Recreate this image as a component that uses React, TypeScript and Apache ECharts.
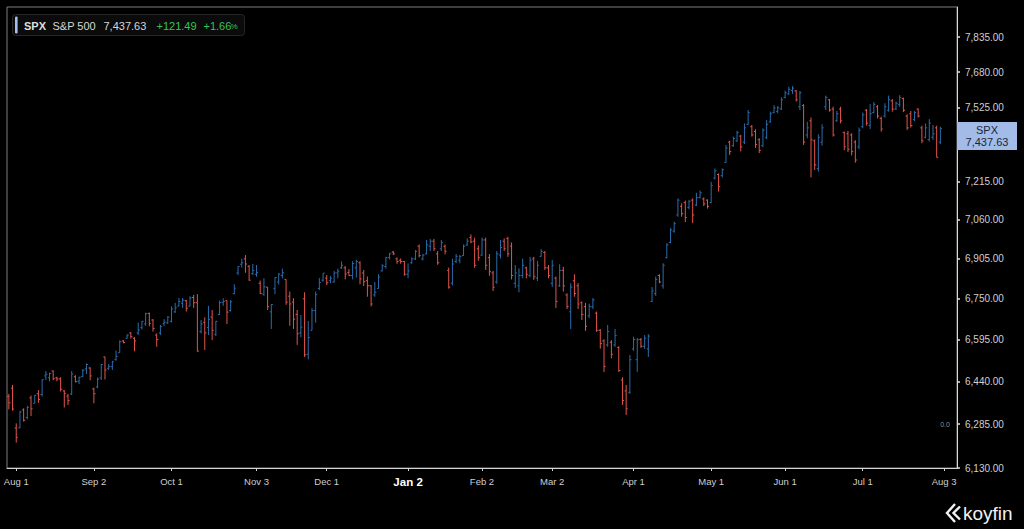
import React, { useEffect, useRef } from 'react';
import * as echarts from 'echarts';

const FONT = '"Liberation Sans", Arial, Helvetica, sans-serif';

// ---- trading calendar (category axis) ----
const FIRST_SESSION = '2025-07-30';
const AXIS_SLOTS = 257;
const MARKET_HOLIDAYS = [
  '2025-09-01', '2025-11-27', '2025-12-25', '2026-01-01', '2026-01-19',
  '2026-02-16', '2026-04-03', '2026-05-25', '2026-06-19', '2026-07-03',
];
const MONTHS = ['Jan', 'Feb', 'Mar', 'Apr', 'May', 'Jun', 'Jul', 'Aug', 'Sep', 'Oct', 'Nov', 'Dec'];

// ---- OHLC values ----
const OPEN = [
  6385, 6415, 6271, 6272, 6336, 6309, 6380, 6360, 6395, 6392,
  6460, 6453, 6478, 6453, 6449, 6405, 6386, 6394, 6457, 6441,
  6458, 6486, 6489, 6412, 6420, 6453, 6530, 6488, 6494, 6520,
  6546, 6590, 6600, 6620, 6600, 6620, 6640, 6654, 6694, 6669,
  6612, 6620, 6655, 6658, 6664, 6700, 6722, 6733, 6743, 6722,
  6755, 6735, 6625, 6660, 6640, 6680, 6615, 6690, 6736, 6743,
  6705, 6770, 6850, 6884, 6905, 6876, 6848, 6845, 6810, 6768,
  6795, 6700, 6790, 6815, 6840, 6825, 6760, 6737, 6690, 6620,
  6750, 6540, 6630, 6705, 6790, 6822, 6830, 6820, 6815, 6850,
  6870, 6870, 6852, 6840, 6870, 6890, 6850, 6820, 6800, 6765,
  6790, 6858, 6875, 6910, 6932, 6905, 6900, 6895, 6845, 6890,
  6905, 6955, 6905, 6925, 6955, 6975, 6925, 6945, 6955, 6860,
  6810, 6895, 6900, 6918, 6960, 6990, 6975, 6945, 6920, 6980,
  6910, 6850, 6815, 6920, 6975, 6985, 6955, 6810, 6800, 6840,
  6870, 6840, 6905, 6830, 6915, 6930, 6870, 6810, 6830, 6800,
  6860, 6765, 6700, 6820, 6800, 6735, 6720, 6685, 6720, 6695,
  6630, 6590, 6575, 6585, 6575, 6565, 6445, 6405, 6400, 6560,
  6520, 6595, 6570, 6560, 6740, 6770, 6840, 6800, 6910, 6970,
  7015, 7080, 7115, 7130, 7110, 7140, 7120, 7150, 7145, 7140,
  7130, 7230, 7245, 7240, 7295, 7380, 7365, 7385, 7405, 7380,
  7455, 7445, 7425, 7390, 7365, 7400, 7465, 7505, 7510, 7520,
  7570, 7585, 7600, 7598, 7530, 7535, 7410, 7470, 7385, 7270,
  7380, 7530, 7560, 7520, 7470, 7520, 7420, 7415, 7410, 7380,
  7360, 7445, 7515, 7450, 7505, 7530, 7480, 7490, 7515, 7555,
  7520, 7540, 7565, 7490, 7500, 7475, 7520, 7440, 7400, 7390,
  7400, 7440, 7380,
];
const HIGH = [
  6394, 6427, 6288, 6333, 6342, 6351, 6388, 6390, 6408, 6447,
  6478, 6472, 6480, 6457, 6455, 6408, 6394, 6478, 6463, 6457,
  6485, 6506, 6492, 6417, 6454, 6504, 6531, 6504, 6516, 6554,
  6592, 6593, 6615, 6623, 6605, 6659, 6665, 6697, 6697, 6672,
  6618, 6650, 6672, 6684, 6721, 6734, 6753, 6753, 6745, 6760,
  6765, 6768, 6669, 6679, 6723, 6707, 6665, 6743, 6752, 6743,
  6745, 6806, 6876, 6906, 6920, 6881, 6885, 6881, 6820, 6830,
  6795, 6730, 6833, 6849, 6867, 6825, 6778, 6752, 6707, 6688,
  6775, 6665, 6714, 6778, 6830, 6849, 6842, 6838, 6858, 6867,
  6895, 6877, 6865, 6896, 6902, 6896, 6862, 6836, 6803, 6815,
  6845, 6884, 6913, 6929, 6936, 6911, 6907, 6897, 6887, 6911,
  6940, 6962, 6924, 6980, 6984, 6984, 6936, 6980, 6962, 6871,
  6906, 6924, 6920, 6962, 6986, 7002, 6989, 6958, 6989, 6989,
  6924, 6858, 6936, 6980, 6986, 6993, 6970, 6881, 6868, 6906,
  6874, 6913, 6913, 6897, 6943, 6936, 6881, 6901, 6836, 6884,
  6874, 6771, 6810, 6845, 6810, 6740, 6734, 6731, 6753, 6701,
  6635, 6596, 6650, 6593, 6635, 6570, 6455, 6427, 6537, 6606,
  6601, 6601, 6612, 6615, 6795, 6836, 6845, 6888, 6967, 7027,
  7053, 7147, 7127, 7138, 7141, 7147, 7170, 7179, 7151, 7143,
  7215, 7270, 7249, 7270, 7368, 7386, 7403, 7428, 7410, 7459,
  7516, 7452, 7434, 7396, 7438, 7473, 7509, 7537, 7533, 7570,
  7599, 7616, 7619, 7602, 7598, 7541, 7466, 7484, 7391, 7413,
  7455, 7578, 7563, 7530, 7512, 7530, 7424, 7427, 7417, 7388,
  7441, 7505, 7520, 7541, 7550, 7537, 7488, 7545, 7578, 7563,
  7552, 7580, 7569, 7498, 7512, 7512, 7523, 7449, 7459, 7477,
  7452, 7449, 7445,
];
const LOW = [
  6338, 6333, 6219, 6270, 6294, 6302, 6314, 6360, 6362, 6385,
  6445, 6440, 6444, 6440, 6403, 6345, 6354, 6390, 6436, 6430,
  6455, 6467, 6444, 6360, 6415, 6445, 6447, 6482, 6482, 6516,
  6546, 6581, 6599, 6599, 6551, 6612, 6633, 6647, 6645, 6625,
  6568, 6612, 6647, 6654, 6660, 6696, 6721, 6715, 6701, 6721,
  6715, 6550, 6618, 6556, 6612, 6593, 6608, 6688, 6723, 6654,
  6701, 6768, 6842, 6871, 6851, 6820, 6842, 6835, 6768, 6761,
  6707, 6635, 6768, 6805, 6829, 6727, 6647, 6635, 6575, 6604,
  6530, 6521, 6630, 6659, 6784, 6816, 6803, 6810, 6812, 6829,
  6866, 6825, 6839, 6825, 6832, 6806, 6799, 6758, 6721, 6758,
  6789, 6856, 6867, 6903, 6920, 6886, 6886, 6839, 6829, 6886,
  6901, 6911, 6899, 6923, 6936, 6936, 6882, 6936, 6923, 6789,
  6802, 6888, 6888, 6917, 6957, 6967, 6870, 6898, 6917, 6862,
  6839, 6780, 6808, 6907, 6936, 6913, 6825, 6792, 6775, 6829,
  6829, 6833, 6823, 6819, 6914, 6862, 6829, 6796, 6715, 6796,
  6778, 6711, 6635, 6758, 6711, 6669, 6628, 6676, 6711, 6624,
  6561, 6474, 6568, 6525, 6568, 6475, 6354, 6318, 6394, 6553,
  6475, 6564, 6560, 6530, 6738, 6761, 6810, 6789, 6907, 6967,
  7009, 7073, 7073, 7051, 7103, 7047, 7116, 7147, 7116, 7106,
  7127, 7225, 7175, 7233, 7294, 7326, 7360, 7381, 7341, 7372,
  7452, 7403, 7355, 7334, 7359, 7392, 7462, 7502, 7502, 7516,
  7566, 7581, 7585, 7552, 7516, 7368, 7396, 7233, 7264, 7257,
  7365, 7516, 7509, 7403, 7466, 7459, 7346, 7338, 7324, 7294,
  7350, 7438, 7450, 7435, 7502, 7480, 7424, 7484, 7509, 7509,
  7516, 7530, 7507, 7431, 7441, 7469, 7484, 7375, 7396, 7382,
  7389, 7316, 7371,
];
const CLOSE = [
  6362, 6339, 6238, 6329, 6299, 6345, 6340, 6389, 6374, 6446,
  6466, 6469, 6450, 6449, 6411, 6396, 6370, 6467, 6439, 6455,
  6481, 6502, 6460, 6395, 6448, 6502, 6482, 6495, 6512, 6532,
  6587, 6584, 6612, 6606, 6590, 6631, 6664, 6693, 6656, 6637,
  6595, 6644, 6661, 6680, 6711, 6715, 6740, 6745, 6714, 6753,
  6735, 6552, 6654, 6620, 6671, 6630, 6664, 6735, 6740, 6699,
  6738, 6791, 6875, 6890, 6885, 6822, 6860, 6852, 6771, 6796,
  6720, 6728, 6832, 6846, 6851, 6737, 6730, 6672, 6617, 6642,
  6538, 6603, 6705, 6766, 6813, 6849, 6812, 6829, 6850, 6857,
  6880, 6846, 6840, 6887, 6895, 6827, 6816, 6800, 6730, 6775,
  6834, 6878, 6910, 6925, 6925, 6895, 6895, 6845, 6858, 6905,
  6935, 6918, 6920, 6960, 6975, 6945, 6890, 6970, 6935, 6795,
  6885, 6915, 6915, 6955, 6975, 6972, 6880, 6910, 6980, 6880,
  6855, 6795, 6925, 6950, 6945, 6925, 6840, 6850, 6840, 6880,
  6845, 6900, 6835, 6880, 6935, 6870, 6840, 6880, 6740, 6860,
  6800, 6720, 6795, 6770, 6730, 6690, 6645, 6720, 6745, 6630,
  6580, 6495, 6625, 6540, 6610, 6480, 6370, 6340, 6520, 6595,
  6595, 6570, 6600, 6608, 6780, 6825, 6815, 6880, 6960, 7020,
  7045, 7140, 7085, 7070, 7135, 7080, 7150, 7170, 7125, 7115,
  7200, 7260, 7195, 7265, 7355, 7340, 7395, 7420, 7360, 7440,
  7505, 7410, 7370, 7345, 7430, 7455, 7500, 7525, 7525, 7560,
  7590, 7605, 7610, 7560, 7590, 7380, 7440, 7389, 7285, 7400,
  7440, 7570, 7515, 7410, 7500, 7470, 7360, 7350, 7340, 7305,
  7430, 7495, 7460, 7500, 7540, 7490, 7435, 7530, 7560, 7520,
  7545, 7570, 7515, 7440, 7450, 7505, 7490, 7385, 7440, 7460,
  7415, 7316.14, 7437.63,
];

// ---- axis ticks ----
const PRICE_TICKS = [6130, 6285, 6440, 6595, 6750, 6905, 7060, 7215, 7370, 7525, 7680, 7835];
const PRICE_MIN = 6130;
const PRICE_MAX = 7970;

// ---- header ----
const TICKER = 'SPX';
const NAME = 'S&P 500';
const LAST = 7437.63;
const CHANGE = 121.49;
const CHANGE_PCT = 1.66;

const BLUE = '#2b6cab';
const RED = '#e2554c';

function buildSessions(): string[] {
  const out: string[] = [];
  const d = new Date(FIRST_SESSION + 'T00:00:00Z');
  while (out.length < AXIS_SLOTS) {
    const dow = d.getUTCDay();
    const s = d.toISOString().slice(0, 10);
    if (dow !== 0 && dow !== 6 && MARKET_HOLIDAYS.indexOf(s) < 0) out.push(s);
    d.setUTCDate(d.getUTCDate() + 1);
  }
  return out;
}

const fmtPrice = (v: number) =>
  v.toLocaleString('en-US', { minimumFractionDigits: 2, maximumFractionDigits: 2 });

export default function App() {
  const ref = useRef<HTMLDivElement>(null);

  useEffect(() => {
    if (!ref.current) return;
    const chart = echarts.init(ref.current, null, { renderer: 'svg' });
    const sessions = buildSessions();
    const monthStart = (i: number) => i > 0 && sessions[i].slice(0, 7) !== sessions[i - 1].slice(0, 7);
    const bars = CLOSE.map((c, i) => [i, Math.log(OPEN[i]), Math.log(HIGH[i]), Math.log(LOW[i]), Math.log(c)]);
    const tickLn = PRICE_TICKS.map((v) => Math.log(v));

    chart.setOption({
      animation: false,
      backgroundColor: '#000000',
      textStyle: { fontFamily: FONT },
      grid: {
        left: 7, top: 7, right: 67, bottom: 61,
        show: true, borderColor: '#7d7d7d', borderWidth: 1, backgroundColor: 'transparent',
      },
      xAxis: {
        type: 'category',
        data: sessions,
        boundaryGap: true,
        axisLine: { show: true, lineStyle: { color: '#d4d4d4', width: 1 } },
        axisTick: {
          show: true, length: 3, alignWithLabel: true,
          interval: (i: number) => monthStart(i),
          lineStyle: { color: '#d4d4d4' },
        },
        axisLabel: {
          show: true,
          interval: (i: number) => monthStart(i),
          margin: 8,
          color: '#cfcfcf',
          fontSize: 9.5,
          fontFamily: FONT,
          formatter: (value: string) => {
            const parts = value.split('-').map(Number);
            const t = `${MONTHS[parts[1] - 1]} ${parts[2]}`;
            return parts[1] === 1 ? `{b|${t}}` : t;
          },
          rich: { b: { fontWeight: 'bold', fontSize: 11.5, color: '#ffffff', fontFamily: FONT } },
        },
        splitLine: { show: false },
      },
      yAxis: {
        type: 'value',
        position: 'right',
        min: Math.log(PRICE_MIN),
        max: Math.log(PRICE_MAX),
        axisLine: { show: true, lineStyle: { color: '#d9d9d9', width: 1 } },
        axisTick: {
          show: true, length: 3, customValues: tickLn,
          lineStyle: { color: '#e0e0e0', width: 1.5 },
        },
        axisLabel: {
          show: true, customValues: tickLn, margin: 8,
          color: '#cfcfcf', fontSize: 10, fontFamily: FONT,
          formatter: (v: number) => fmtPrice(Math.round(Math.exp(v) * 100) / 100),
        },
        splitLine: { show: false },
      },
      series: [
        {
          type: 'custom',
          name: TICKER,
          clip: true,
          data: bars,
          encode: { x: 0, y: [1, 2, 3, 4] },
          renderItem: (params: any, api: any) => {
            const i = api.value(0);
            const o = api.value(1);
            const h = api.value(2);
            const l = api.value(3);
            const c = api.value(4);
            const pH = api.coord([i, h]);
            const pL = api.coord([i, l]);
            const pO = api.coord([i, o]);
            const pC = api.coord([i, c]);
            const x = pH[0];
            const style = { stroke: c >= o ? BLUE : RED, lineWidth: 1 };
            return {
              type: 'group',
              children: [
                { type: 'line', shape: { x1: x, y1: pH[1], x2: x, y2: pL[1] }, style },
                { type: 'line', shape: { x1: x - 1.6, y1: pO[1], x2: x, y2: pO[1] }, style },
                { type: 'line', shape: { x1: x, y1: pC[1], x2: x + 1.6, y2: pC[1] }, style },
              ],
            };
          },
          z: 2,
        },
        {
          type: 'line',
          data: [[CLOSE.length - 1, Math.log(LAST)]],
          showSymbol: false,
          symbol: 'none',
          lineStyle: { color: 'rgba(0,0,0,0)', width: 0 },
          z: 5,
          markLine: {
            silent: true,
            symbol: ['none', 'none'],
            lineStyle: { color: 'rgba(0,0,0,0)', width: 0, type: 'solid' },
            data: [{ yAxis: Math.log(LAST) }],
            label: {
              show: true,
              position: 'end',
              distance: 0,
              opacity: 1,
              backgroundColor: '#a2bce7',
              padding: [2, 0, 2, 0],
              formatter: `{a|${TICKER}}\n{a|${fmtPrice(LAST)}}`,
              rich: {
                a: { width: 60, align: 'center', color: '#172641', fontSize: 11, lineHeight: 12, fontFamily: FONT },
              },
            },
          },
        },
      ],
      graphic: [
        {
          type: 'rect', shape: { x: 12.5, y: 14.5, width: 232, height: 21, r: 3 },
          style: { fill: '#0b0b0b', stroke: '#262626', lineWidth: 1 }, z: 10,
        },
        {
          type: 'rect', shape: { x: 15, y: 16.5, width: 2.6, height: 17, r: 1.2 },
          style: { fill: '#a5bfea' }, z: 11,
        },
        {
          type: 'text', x: 24, y: 25.5, z: 11,
          style: { text: TICKER, fill: '#dedede', fontSize: 11, fontWeight: 'bold', fontFamily: FONT, verticalAlign: 'middle', align: 'left' },
        },
        {
          type: 'text', x: 52.5, y: 25.5, z: 11,
          style: { text: NAME, fill: '#d6d6d6', fontSize: 11, fontFamily: FONT, verticalAlign: 'middle', align: 'left' },
        },
        {
          type: 'text', x: 103.5, y: 25.5, z: 11,
          style: { text: fmtPrice(LAST), fill: '#d6d6d6', fontSize: 11, fontFamily: FONT, verticalAlign: 'middle', align: 'left' },
        },
        {
          type: 'text', x: 156.5, y: 25.5, z: 11,
          style: { text: '+' + CHANGE.toFixed(2), fill: '#37c25a', fontSize: 11, fontFamily: FONT, verticalAlign: 'middle', align: 'left' },
        },
        {
          type: 'text', x: 203.5, y: 25.5, z: 11,
          style: { text: '+' + CHANGE_PCT.toFixed(2), fill: '#37c25a', fontSize: 11, fontFamily: FONT, verticalAlign: 'middle', align: 'left' },
        },
        {
          type: 'text', x: 230.5, y: 26.5, z: 11,
          style: { text: '%', fill: '#37c25a', fontSize: 8, fontFamily: FONT, verticalAlign: 'middle', align: 'left' },
        },
        {
          type: 'text', x: 945, y: 424, z: 11,
          style: { text: '0.0', fill: '#8e8e8e', fontSize: 7, fontFamily: FONT, verticalAlign: 'middle', align: 'center' },
        },
        {
          type: 'polyline', z: 11,
          shape: { points: [[955, 504], [947, 513], [955, 522]] },
          style: { stroke: '#f2f2f2', lineWidth: 2.4, fill: 'none' },
        },
        {
          type: 'polyline', z: 11,
          shape: { points: [[960, 506.5], [953.5, 513], [960, 519.5]] },
          style: { stroke: '#f2f2f2', lineWidth: 2.4, fill: 'none' },
        },
        {
          type: 'text', x: 963, y: 513, z: 11,
          style: { text: 'koyfin', fill: '#f2f2f2', fontSize: 19, fontFamily: FONT, verticalAlign: 'middle', align: 'left' },
        },
      ],
    });

    return () => chart.dispose();
  }, []);

  return (
    <div
      ref={ref}
      style={{ position: 'fixed', left: 0, top: 0, width: 1024, height: 529, background: '#000000' }}
    />
  );
}
